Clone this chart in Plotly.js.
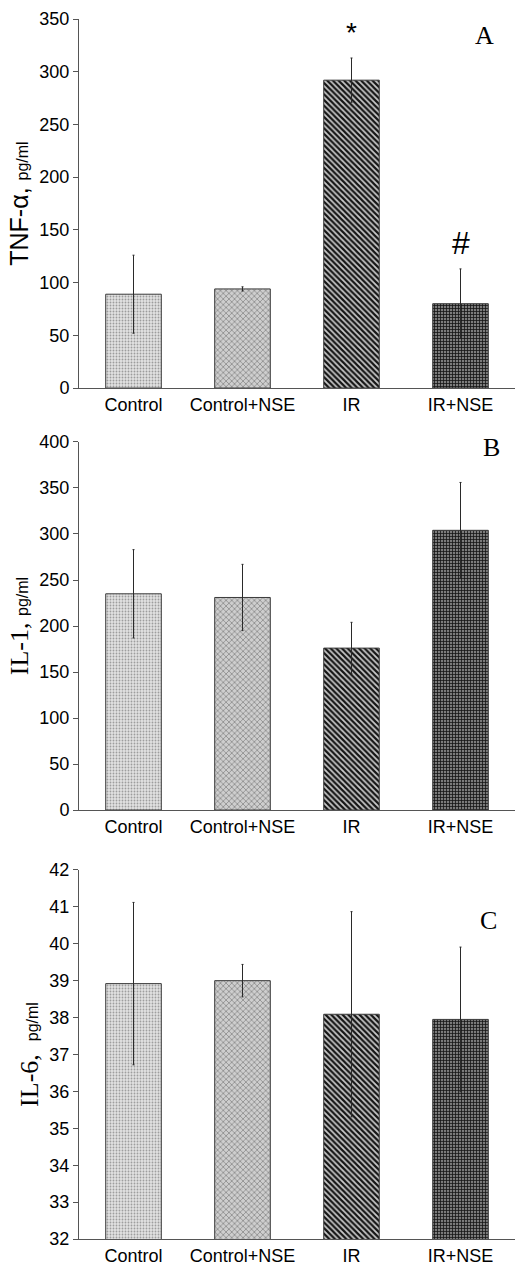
<!DOCTYPE html>
<html>
<head>
<meta charset="utf-8">
<script src="https://cdn.plot.ly/plotly-3.0.1.min.js"></script>
<style>html,body{margin:0;padding:0;background:#fff;}#chart{width:519px;height:1271px;}</style>
</head>
<body>
<div id="chart"></div>
<script>
const categories = ["Control", "Control+NSE", "IR", "IR+NSE"];

const tnfValues = [89, 94, 292, 80];
const tnfErrors = [37, 2, 21, 33];

const il1Values = [235, 231, 176, 304];
const il1Errors = [48, 36, 28, 52];

const il6Values = [38.92, 39.0, 38.09, 37.95];
const il6Errors = [2.2, 0.44, 2.78, 1.96];

const panelLetters = ["A", "B", "C"];
const tnfMarks = ["", "", "*", "#"];

const patternShapes = [".", "x", "\\", "+"];
const barBase = ["#e2e2e2", "#cecece", "#c8c8c8", "#7c7c7c"];
const patternFg = ["#9c9c9c", "#888888", "#151515", "#141414"];
const patternSize = [3, 4, 4, 3];
const patternSolidity = [0.3, 0.35, 0.55, 0.45];

const data = [];
function addPanel(vals, errs, xa, ya) {
  categories.forEach((c, i) => {
    data.push({
      type: "bar",
      x: [c],
      y: [vals[i]],
      xaxis: xa,
      yaxis: ya,
      width: 0.51,
      marker: {
        color: barBase[i],
        line: {color: "#3a3a3a", width: 1},
        pattern: {shape: patternShapes[i], fgcolor: patternFg[i], bgcolor: barBase[i], fgopacity: 1, size: patternSize[i], solidity: patternSolidity[i], fillmode: "overlay"}
      },
      error_y: {type: "data", array: [errs[i]], visible: true, color: "#2a2a2a", thickness: 1, width: 1},
      showlegend: false,
      hoverinfo: "skip"
    });
  });
}
addPanel(tnfValues, tnfErrors, "x", "y");
addPanel(il1Values, il1Errors, "x2", "y2");
addPanel(il6Values, il6Errors, "x3", "y3");

const SANS = "Arial";
const SERIF = "Times New Roman";
const tickFont = {family: SANS, size: 18, color: "#000"};

function xAxis(anchor) {
  return {
    anchor: anchor,
    domain: [0, 1],
    type: "category",
    categoryorder: "array", categoryarray: categories,
    range: [-0.5, 3.5],
    showline: true, linecolor: "#555", linewidth: 1,
    ticks: "", showgrid: false, zeroline: false,
    tickfont: tickFont, fixedrange: true
  };
}
function yAxis(anchor, domain, range, dtick, titleText, titleFont, titleSize) {
  return {
    anchor: anchor,
    domain: domain,
    range: range,
    dtick: dtick,
    showline: true, linecolor: "#555", linewidth: 1,
    ticks: "outside", ticklen: 5, tickcolor: "#555",
    showgrid: false, zeroline: false,
    tickfont: tickFont,
    title: {text: titleText, font: {family: titleFont, size: titleSize, color: "#000"}, standoff: 3},
    fixedrange: true
  };
}

const annotations = [];
const letterPos = [[0.93, 0.955, "x", "y"], [0.945, 0.985, "x2", "y2"], [0.94, 0.864, "x3", "y3"]];
panelLetters.forEach((t, i) => {
  const p = letterPos[i];
  annotations.push({
    text: t, xref: p[2] + " domain", yref: p[3] + " domain", x: p[0], y: p[1],
    showarrow: false, xanchor: "center", yanchor: "middle",
    font: {family: SERIF, size: 26, color: "#000"}
  });
});
tnfMarks.forEach((m, i) => {
  if (!m) return;
  annotations.push({
    text: m, xref: "x", yref: "y", x: categories[i], y: tnfValues[i] + tnfErrors[i],
    showarrow: false, xanchor: "center", yanchor: "bottom", yshift: m === "*" ? 8 : 6,
    font: {family: SANS, size: m === "*" ? 28 : 32, color: "#000"}
  });
});

const layout = {
  width: 519, height: 1271,
  margin: {l: 79, r: 4, t: 19, b: 32},
  paper_bgcolor: "#fff", plot_bgcolor: "#fff",
  font: {family: SANS},
  barmode: "overlay",
  showlegend: false,
  xaxis: xAxis("y"),
  xaxis2: xAxis("y2"),
  xaxis3: xAxis("y3"),
  yaxis: yAxis("x", [0.6975, 1.0], [0, 350], 50, 'TNF-α, <span style="font-size:16px">pg/ml</span>', SANS, 25),
  yaxis2: yAxis("x2", [0.3516, 0.6533], [0, 400], 50, 'IL-1, <span style="font-size:16px;font-family:Arial">pg/ml</span>', SERIF, 26),
  yaxis3: yAxis("x3", [0, 0.3025], [32, 42], 1, 'IL-6,  <span style="font-size:16px;font-family:Arial">pg/ml</span>', SERIF, 26),
  annotations: annotations
};

Plotly.newPlot("chart", data, layout, {displayModeBar: false, staticPlot: true});
</script>
</body>
</html>
